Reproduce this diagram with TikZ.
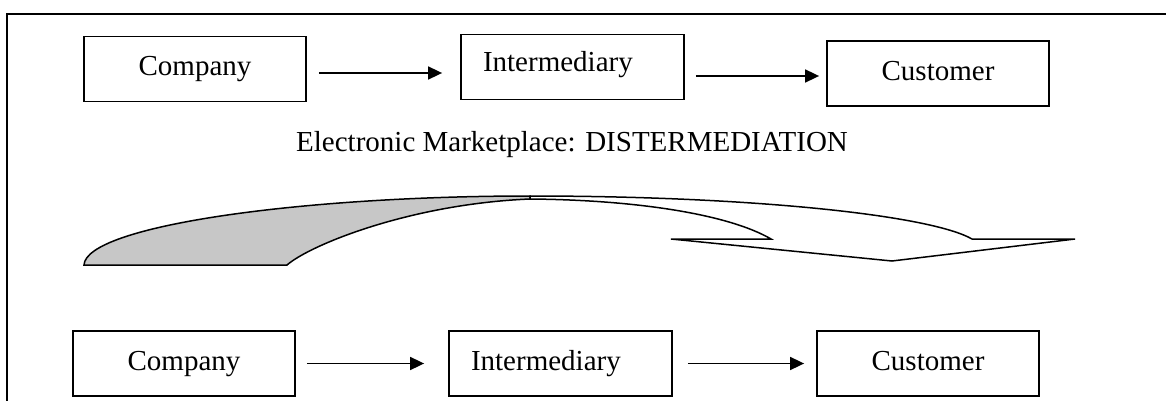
\documentclass[tikz,border=0pt]{standalone}
\usepackage{fontspec}
\setmainfont{Liberation Serif}
\usetikzlibrary{arrows.meta}
\tikzset{
  box/.style={draw, line width=0.9pt, minimum width=111pt, minimum height=32.5pt, inner sep=0pt, text height=10pt, text depth=3.2pt},
  leftbox/.style={box, align=left, text width=89.5pt, inner xsep=11pt},
  flow/.style={line width=0.85pt, -{Triangle[length=7pt,width=6.5pt]}},
  curvedarrow/.style={line width=0.75pt}
}
\begin{document}
\begin{tikzpicture}[x=0.5pt, y=-0.5pt, font=\fontsize{14.5}{17}\selectfont]
			\useasboundingbox (0,0) rectangle (1166,401);
			\clip (0,0) rectangle (1166,401);
			\draw [line width=1pt] (7,14) rectangle (1190,420);
			
			\node[box] (comp1) at (195,69) {Company};
			\node[leftbox, text depth=5.3pt] (inter1) at (572.5,67) {Intermediary};
			\node[box] (cust1) at (938,73.5) {Customer};
			
			\draw [flow, shorten <=6pt, shorten >=9pt] ([yshift=-2pt]comp1.east) -- ([yshift=-2pt]comp1.east -| inter1.west);
			\draw [flow, shorten <=5.5pt, shorten >=3.5pt] ([yshift=-4.5pt]inter1.east) -- ([yshift=-4.5pt]inter1.east -| cust1.west);
			
			\node[anchor=base] (title) at (572,151) {Electronic Marketplace: DISTERMEDIATION};
			
			\draw [curvedarrow, fill=black!22] (84,265) .. controls (86,226) and (300,196) .. (530,196)
			-- (530,199) .. controls (410,204) and (310,245) .. (287,265) -- cycle;
			\draw [curvedarrow, fill=white] (530,196) .. controls (750,196) and (930,215) .. (972,239)
			-- (1075,239) -- (892,261) -- (671,239) -- (771,239)
			.. controls (730,215) and (640,200) .. (530,199) -- cycle;
			
			\node[box] (comp2) at (184,363.5) {Company};
			\node[leftbox] (inter2) at (560.5,363.5) {Intermediary};
			\node[box] (cust2) at (928,363.5) {Customer};
			
			\draw [flow, shorten <=5.5pt, shorten >=12pt] (comp2) -- (inter2);
			\draw [flow, shorten <=7.5pt, shorten >=6pt] (inter2) -- (cust2);
			\end{tikzpicture}
\end{document}
